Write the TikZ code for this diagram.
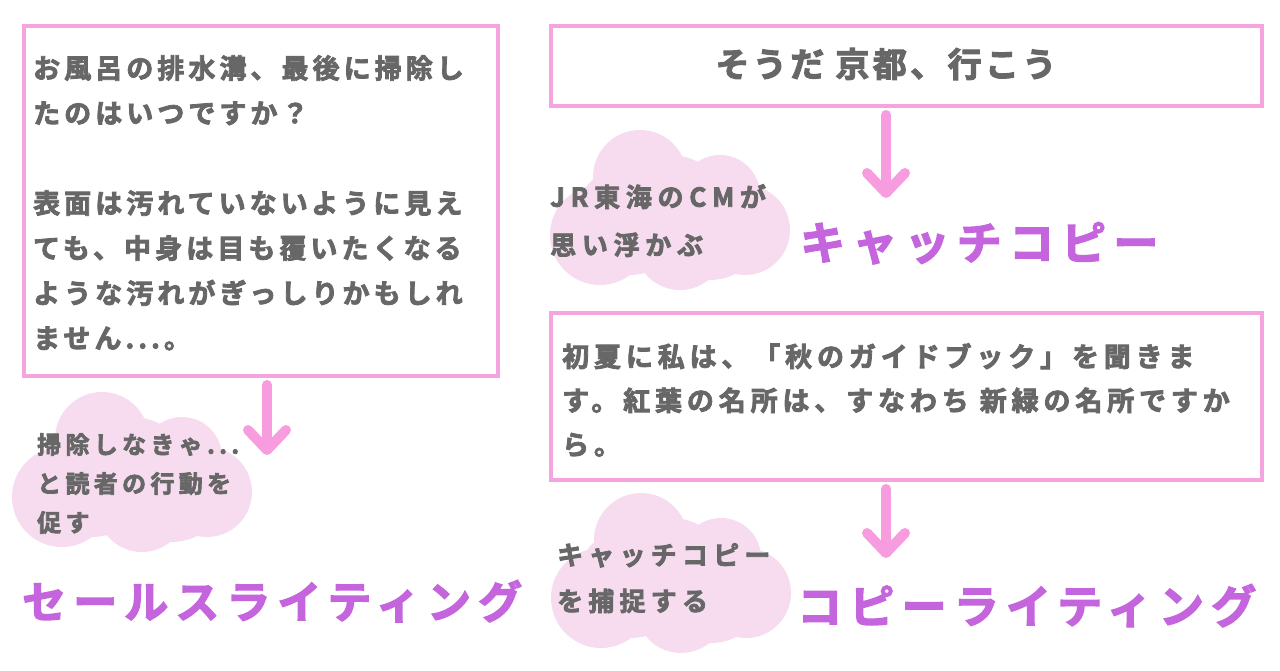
\documentclass[tikz,border=0pt]{standalone}
\usepackage{fontspec}
\newfontfamily\jpfont{Noto Sans CJK JP}[UprightFont=* Bold]
\usetikzlibrary{arrows.meta,positioning}

\definecolor{boxpink}{HTML}{F5A4E0}
\definecolor{arrowpink}{HTML}{F89CE0}
\definecolor{cloudpink}{HTML}{F7DCF0}
\definecolor{labelpurple}{HTML}{C565DD}
\definecolor{textgray}{HTML}{676767}

% size, line skip, letter spacing
\newcommand\jpset[3]{\jpfont\fontsize{#1}{#2}\selectfont\addfontfeatures{LetterSpace=#3, FakeBold=3}}

% soft cloud behind a side note
\newcommand\thoughtcloud[2]{%
  \begin{scope}[shift={(#1,#2)}]
    \fill[cloudpink] (-30,-33) circle[radius=47] (50,-15) circle[radius=40]
      (75,20) circle[radius=45] (10,35) circle[radius=45]
      (-70,25) circle[radius=50] (0,5) circle[radius=60]
      (-40,10) circle[radius=55] (40,15) circle[radius=55];
  \end{scope}}

\tikzset{
  framebox/.style={draw=boxpink, line width=4pt, rectangle, anchor=north west, inner sep=0pt},
  bodytext/.style={anchor=north west, inner sep=0pt, align=left, text=textgray},
  notetext/.style={anchor=north west, inner sep=0pt, align=left, text=textgray},
  termlabel/.style={anchor=north west, inner sep=0pt, text=labelpurple},
  flowarrow/.style={draw=arrowpink, line width=10pt, line cap=round, shorten <=7pt,
    -{Straight Barb[length=20pt, width=38pt, round]}}
}

\begin{document}
\begin{tikzpicture}[x=1pt, y=-1pt]
  \useasboundingbox (0,0) rectangle (1280,670);
  \fill[white] (0,0) rectangle (1280,670);

  % clouds
  \thoughtcloud{132}{472}
  \thoughtcloud{670}{210}
  \thoughtcloud{671}{573}

  % boxes
  \node[framebox, minimum width=474, minimum height=350] (bathbox) at (22,24) {};
  \node[framebox, minimum width=711, minimum height=80] (kyotobox) at (549,24) {};
  \node[framebox, minimum width=711, minimum height=167] (guidebox) at (549,311) {};

  \node[bodytext, font=\jpset{27}{45}{15}] (bathtext) at (33,55)
    {お風呂の排水溝、最後に掃除し\\たのはいつですか？\\[45pt]表面は汚れていないように見え\\ても、中身は目も覆いたくなる\\ような汚れがぎっしりかもしれ\\ません...。};
  \node[text=textgray, inner sep=0pt, font=\jpset{34}{40}{10}] (kyototext) at (886,64)
    {そうだ 京都、行こう};
  \node[bodytext, font=\jpset{27}{44}{18}] (guidetext) at (562,343)
    {初夏に私は、「秋のガイドブック」を聞きま\\す。紅葉の名所は、すなわち 新緑の名所ですか\\ら。};

  % side notes
  \node[notetext, font=\jpset{24}{39}{18}] (salesnote) at (37,433)
    {掃除しなきゃ...\\と読者の行動を\\促す};
  \node[notetext, font=\jpset{26}{48}{22}] (kyotonote) at (550,184)
    {JR東海のCMが\\思い浮かぶ};
  \node[notetext, font=\jpset{26}{46}{20}] (guidenote) at (557,543)
    {キャッチコピー\\を捕捉する};

  % terms
  \node[termlabel, font=\jpset{44}{50}{16}] (sales) at (22,580) {セールスライティング};
  \node[termlabel, font=\jpset{45}{50}{16}] (catch) at (800,222) {キャッチコピー};
  \node[termlabel, font=\jpset{45}{50}{16}] (copy) at (797,584) {コピーライティング};

  % arrows
  \coordinate (salesend) at (267,455);
  \coordinate (catchend) at (886,198);
  \coordinate (copyend) at (886,558);
  \draw[flowarrow] (bathbox.south -| salesend) -- (salesend);
  \draw[flowarrow] (kyotobox.south -| catchend) -- (catchend);
  \draw[flowarrow] (guidebox.south -| copyend) -- (copyend);
\end{tikzpicture}
\end{document}
